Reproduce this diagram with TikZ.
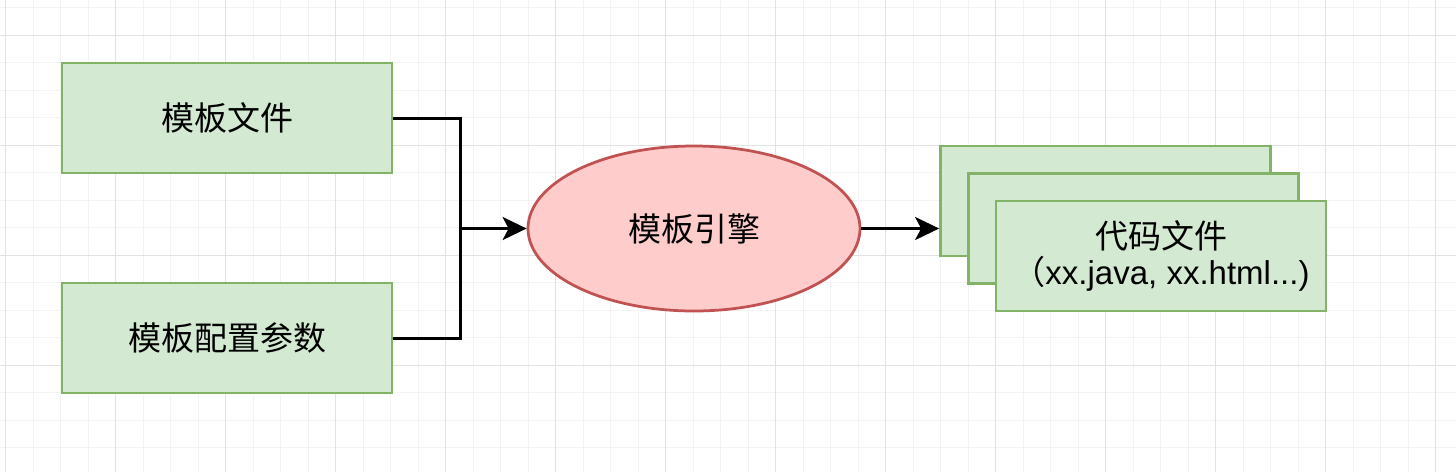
\documentclass[tikz,border=0pt]{standalone}
\usepackage{fontspec}
\setmainfont{Liberation Sans}
\newfontfamily\cjk{Noto Sans CJK SC}
\usetikzlibrary{arrows.meta,shapes.geometric}
\definecolor{gfill}{HTML}{D3E9D2}
\definecolor{gline}{HTML}{82B366}
\definecolor{rfill}{HTML}{FFCCCC}
\definecolor{rline}{HTML}{C05252}
\definecolor{gridminor}{HTML}{F3F3F3}
\definecolor{gridmajor}{HTML}{E2E2E2}
\tikzset{
  gbox/.style={draw=gline, fill=gfill, line width=2.75pt, minimum width=330pt, minimum height=110pt, inner sep=0pt, font=\fontsize{33pt}{40pt}\selectfont},
  ellbox/.style={draw=rline, fill=rfill, line width=2.75pt, ellipse, minimum width=332pt, minimum height=165pt, inner sep=0pt, font=\fontsize{33pt}{40pt}\selectfont},
  conn/.style={line width=3pt, black},
  arr/.style={conn, -{Stealth[length=24pt, width=23pt, inset=6pt]}}
}
\begin{document}
\begin{tikzpicture}[x=1pt, y=-1pt]
\useasboundingbox (0,0) rectangle (1456,472);
\fill[white] (0,0) rectangle (1456,472);
% minor grid
\foreach \i in {0,...,52} {
  \draw[gridminor, line width=1pt] ({5.5+27.5*\i},0) -- ({5.5+27.5*\i},472);
}
\foreach \i in {0,...,16} {
  \draw[gridminor, line width=1pt] (0,{7.5+27.5*\i}) -- (1456,{7.5+27.5*\i});
}
% major grid
\foreach \i in {0,...,13} {
  \draw[gridmajor, line width=1pt] ({5.5+110*\i},0) -- ({5.5+110*\i},472);
}
\foreach \i in {0,...,3} {
  \draw[gridmajor, line width=1pt] (0,{35+110*\i}) -- (1456,{35+110*\i});
}
% nodes
\node[gbox] (a) at (227,118) {\cjk 模板文件};
\node[gbox] (b) at (227,338) {\cjk 模板配置参数};
\node[ellbox] (c) at (694,228.5) {\cjk 模板引擎};
\node[gbox] (s1) at (1105.5,201) {};
\node[gbox] (s2) at (1133.5,228.5) {};
\node[gbox, align=center, font=\fontsize{33pt}{37pt}\selectfont] (s3) at (1161,256) {{\cjk 代码文件}\\[-1pt]{\cjk （}xx.java, xx.html...)};
\coordinate (j) at (460,228.5);
% connectors
\draw[conn] (a.east) -| (j);
\draw[conn] (b.east) -| (j);
\draw[arr] (j) -- (c.west);
\draw[arr] (c.east) -- (c.east -| s1.west);
\end{tikzpicture}
\end{document}
